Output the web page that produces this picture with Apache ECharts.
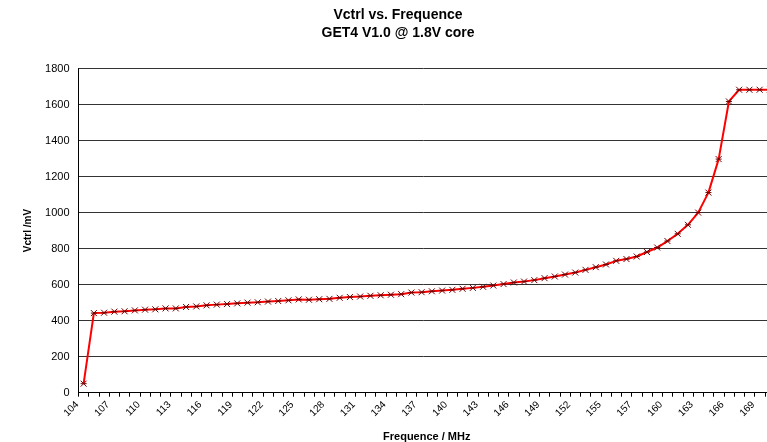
<!DOCTYPE html>
<html>
<head>
    <meta charset="utf-8">
    <title>Vctrl vs. Frequence</title>
    <script src="https://cdn.jsdelivr.net/npm/echarts@6/dist/echarts.min.js"></script>
    <style>
        html, body {margin:0;padding:0;background:#fff}
        #chart {width:767px;height:442px}
    </style>
</head>
<body>
<div id="chart"></div>
<script>
    // frequency categories (MHz), one per measured point
    var freqs = [104, 105, 106, 107, 108, 109, 110, 111, 112, 113, 114, 115, 116, 117, 118, 119,
        120, 121, 122, 123, 124, 125, 126, 127, 128, 129, 130, 131, 132, 133, 134, 135, 136, 137,
        138, 139, 140, 141, 142, 143, 144, 145, 146, 147, 148, 149, 150, 151, 152, 153, 154, 155,
        156, 156.5, 157, 158, 159, 160, 161, 162, 163, 164, 165, 166, 167, 168, 169, 170];
    // Vctrl in mV
    var vctrl = [50, 442, 444, 450, 452, 457, 461, 463, 468, 468, 476, 479, 485, 489, 492, 496,
        500, 502, 506, 509, 513, 518, 516, 519, 521, 527, 531, 534, 538, 541, 544, 547, 556, 558,
        563, 567, 571, 577, 582, 588, 595, 603, 612, 617, 625, 636, 645, 656, 667, 682, 697, 712,
        732, 742, 756, 781, 806, 842, 882, 932, 1000, 1111, 1297, 1617, 1682, 1682, 1682, 1682];
    var yTicks = [0, 200, 400, 600, 800, 1000, 1200, 1400, 1600, 1800];

    var chart = echarts.init(document.getElementById('chart'));
    var font = '"Liberation Sans", Arial, sans-serif';

    var option = {
        animation: false,
        textStyle: {fontFamily: font},
        title: {
            text: 'Vctrl vs. Frequence\nGET4 V1.0 @ 1.8V core',
            left: 393,
            textAlign: 'center',
            top: 1,
            textStyle: {fontFamily: font, fontSize: 14, fontWeight: 'bold', color: '#000', lineHeight: 18}
        },
        grid: {left: 78.5, right: -8, top: 68.5, bottom: 49.3, outerBoundsMode: 'none', containLabel: false},
        xAxis: {
            type: 'category',
            data: freqs.map(String),
            boundaryGap: true,
            name: 'Frequence / MHz',
            nameLocation: 'middle',
            nameGap: 39,
            nameTextStyle: {fontFamily: font, fontSize: 11, fontWeight: 'bold', color: '#000'},
            axisLine: {lineStyle: {color: '#000', width: 1}},
            axisTick: {show: true, interval: 0, length: 4, lineStyle: {color: '#000'}},
            axisLabel: {
                interval: 2, rotate: 45, margin: 4, padding: [0, 9, 0, 0],
                fontSize: 10, color: '#000', fontFamily: font
            },
            splitLine: {show: false}
        },
        yAxis: {
            type: 'value',
            min: yTicks[0],
            max: yTicks[yTicks.length - 1],
            interval: 200,
            name: 'Vctrl /mV',
            nameLocation: 'middle',
            nameGap: 45,
            nameTextStyle: {fontFamily: font, fontSize: 10, fontWeight: 'bold', color: '#000'},
            axisLine: {show: true, lineStyle: {color: '#000', width: 1}},
            axisTick: {show: false},
            axisLabel: {
                fontSize: 11, color: '#000', margin: 9, fontFamily: font,
                formatter: function (v) { return String(v); }
            },
            splitLine: {show: true, lineStyle: {color: '#333', width: 1}}
        },
        series: [{
            type: 'line',
            data: vctrl,
            symbol: 'path://M0,0L10,10M10,0L0,10M0,5L10,5',
            symbolSize: 6,
            showAllSymbol: true,
            lineStyle: {color: '#ff0000', width: 2},
            itemStyle: {color: '#ff0000', borderColor: '#700000', borderWidth: 1}
        }]
    };
    chart.setOption(option);

    window.onresize = function () {
        chart.resize();
    };
</script>
</body>
</html>
